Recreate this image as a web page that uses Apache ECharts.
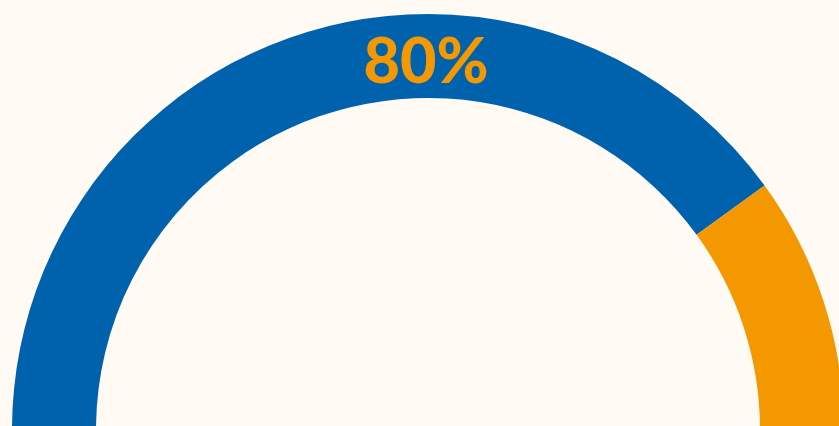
<!DOCTYPE html>
<html><head><meta charset="utf-8">
<script src="https://cdn.jsdelivr.net/npm/echarts@6/dist/echarts.min.js"></script>
<style>html,body{margin:0;padding:0;background:#FFFAF3;}#c{width:839px;height:426px;}</style>
</head><body><div id="c"></div>
<script>
const categories = ['達成', '未達成'];
const values = [80, 20];
const label = '80%';
const chart = echarts.init(document.getElementById('c'));
chart.setOption({
  backgroundColor: '#FFFAF3',
  animation: false,
  graphic: [{
    type: 'text', x: 426, y: 63, z: 100,
    style: { text: label, fill: '#F39800', fontFamily: 'Lato', fontWeight: 900, fontSize: 63, textAlign: 'center', textVerticalAlign: 'middle' }
  }],
  series: [{
    type: 'pie',
    center: [428, 430],
    radius: [332, 416],
    startAngle: 180,
    endAngle: 0,
    clockwise: true,
    z: 1,
    label: { show: false },
    labelLine: { show: false },
    silent: true,
    itemStyle: { borderWidth: 0 },
    data: categories.map((n, i) => ({ name: n, value: values[i], itemStyle: { color: i === 0 ? '#0062AD' : '#F39800' } }))
  }]
});
</script></body></html>
